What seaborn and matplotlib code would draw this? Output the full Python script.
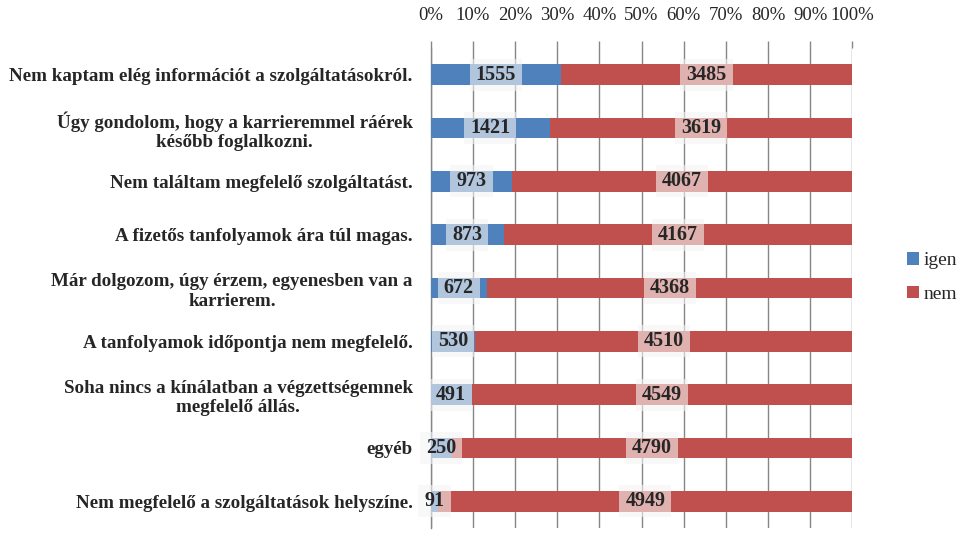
import matplotlib
matplotlib.use("Agg")
import matplotlib.pyplot as plt
import seaborn as sns
import pandas as pd
import numpy as np
from matplotlib.patches import Patch

categories = [
    "Nem kaptam elég információt a szolgáltatásokról.",
    "Úgy gondolom, hogy a karrieremmel ráérek\nkésőbb foglalkozni.",
    "Nem találtam megfelelő szolgáltatást.",
    "A fizetős tanfolyamok ára túl magas.",
    "Már dolgozom, úgy érzem, egyenesben van a\nkarrierem.",
    "A tanfolyamok időpontja nem megfelelő.",
    "Soha nincs a kínálatban a végzettségemnek\nmegfelelő állás.",
    "egyéb",
    "Nem megfelelő a szolgáltatások helyszíne.",
]
igen = [1555, 1421, 973, 873, 672, 530, 491, 250, 91]
nem = [3485, 3619, 4067, 4167, 4368, 4510, 4549, 4790, 4949]
series_names = ["igen", "nem"]
xtick_labels = ["0%", "10%", "20%", "30%", "40%", "50%", "60%", "70%", "80%", "90%", "100%"]

BLUE = "#4F81BD"
RED = "#C0504D"
GRID = "#868686"

sns.set_style("white")
plt.rcParams["font.family"] = ["Liberation Serif", "DejaVu Serif"]

df = pd.DataFrame({"cat": categories, "igen": igen, "nem": nem})
df["total"] = df["igen"] + df["nem"]
df["igen_pct"] = df["igen"] / df["total"] * 100
df["full_pct"] = (df["igen"] + df["nem"]) / df["total"] * 100

fig = plt.figure(figsize=(9.8, 5.52), dpi=100)
ax = fig.add_axes([0.4395, 0.0435, 0.4302, 0.8695])

sns.barplot(data=df, y="cat", x="full_pct", color=RED, width=0.39, orient="h",
            ax=ax, zorder=3, saturation=1, linewidth=0)
sns.barplot(data=df, y="cat", x="igen_pct", color=BLUE, width=0.39, orient="h",
            ax=ax, zorder=3, saturation=1, linewidth=0)

ax.set_xlim(0, 100)
ax.set_ylim(len(categories) - 0.5, -0.5)
ax.set_xlabel("")
ax.set_ylabel("")

# x axis on top
ax.xaxis.tick_top()
ax.set_xticks(np.arange(0, 101, 10))
ax.set_xticklabels(xtick_labels, fontsize=13.5)
ax.tick_params(axis="x", direction="out", length=5, width=1, color=GRID, pad=12)
ax.grid(axis="x", color=GRID, linewidth=1, zorder=0)
ax.set_axisbelow(True)

# y axis
ax.set_yticks(range(len(categories)))
ax.set_yticklabels(categories, fontsize=13.7, fontweight="bold", ha="right",
                   multialignment="center", linespacing=1.2)
ax.set_yticks(np.arange(-0.5, len(categories), 1), minor=True)
ax.tick_params(axis="y", which="major", length=0, pad=13)
ax.tick_params(axis="y", which="minor", direction="out", length=5, width=1, color=GRID)

for s in ["top", "right", "bottom"]:
    ax.spines[s].set_visible(False)
ax.spines["left"].set_color(GRID)
ax.spines["left"].set_linewidth(1)

# data labels
bbox_kw = dict(boxstyle="square,pad=0.3", fc="#f4f4f4", ec="none", alpha=0.6)
for i, row in df.iterrows():
    ip = row["igen_pct"]
    npct = row["nem"] / row["total"] * 100
    ax.text(ip / 2, i, f"{row['igen']}", ha="center", va="center", fontsize=14.5,
            fontweight="bold", bbox=bbox_kw, zorder=5)
    ax.text(ip + npct / 2, i, f"{row['nem']}", ha="center", va="center", fontsize=14.5,
            fontweight="bold", bbox=bbox_kw, zorder=5)

handles = [Patch(facecolor=BLUE, edgecolor="none"), Patch(facecolor=RED, edgecolor="none")]
fig.legend(handles, series_names, loc="center left", bbox_to_anchor=(0.918, 0.497),
           frameon=False, fontsize=14, handlelength=0.6, handleheight=0.6,
           handletextpad=0.25, labelspacing=0.85, borderaxespad=0)

fig.savefig("out.png", dpi=100)
